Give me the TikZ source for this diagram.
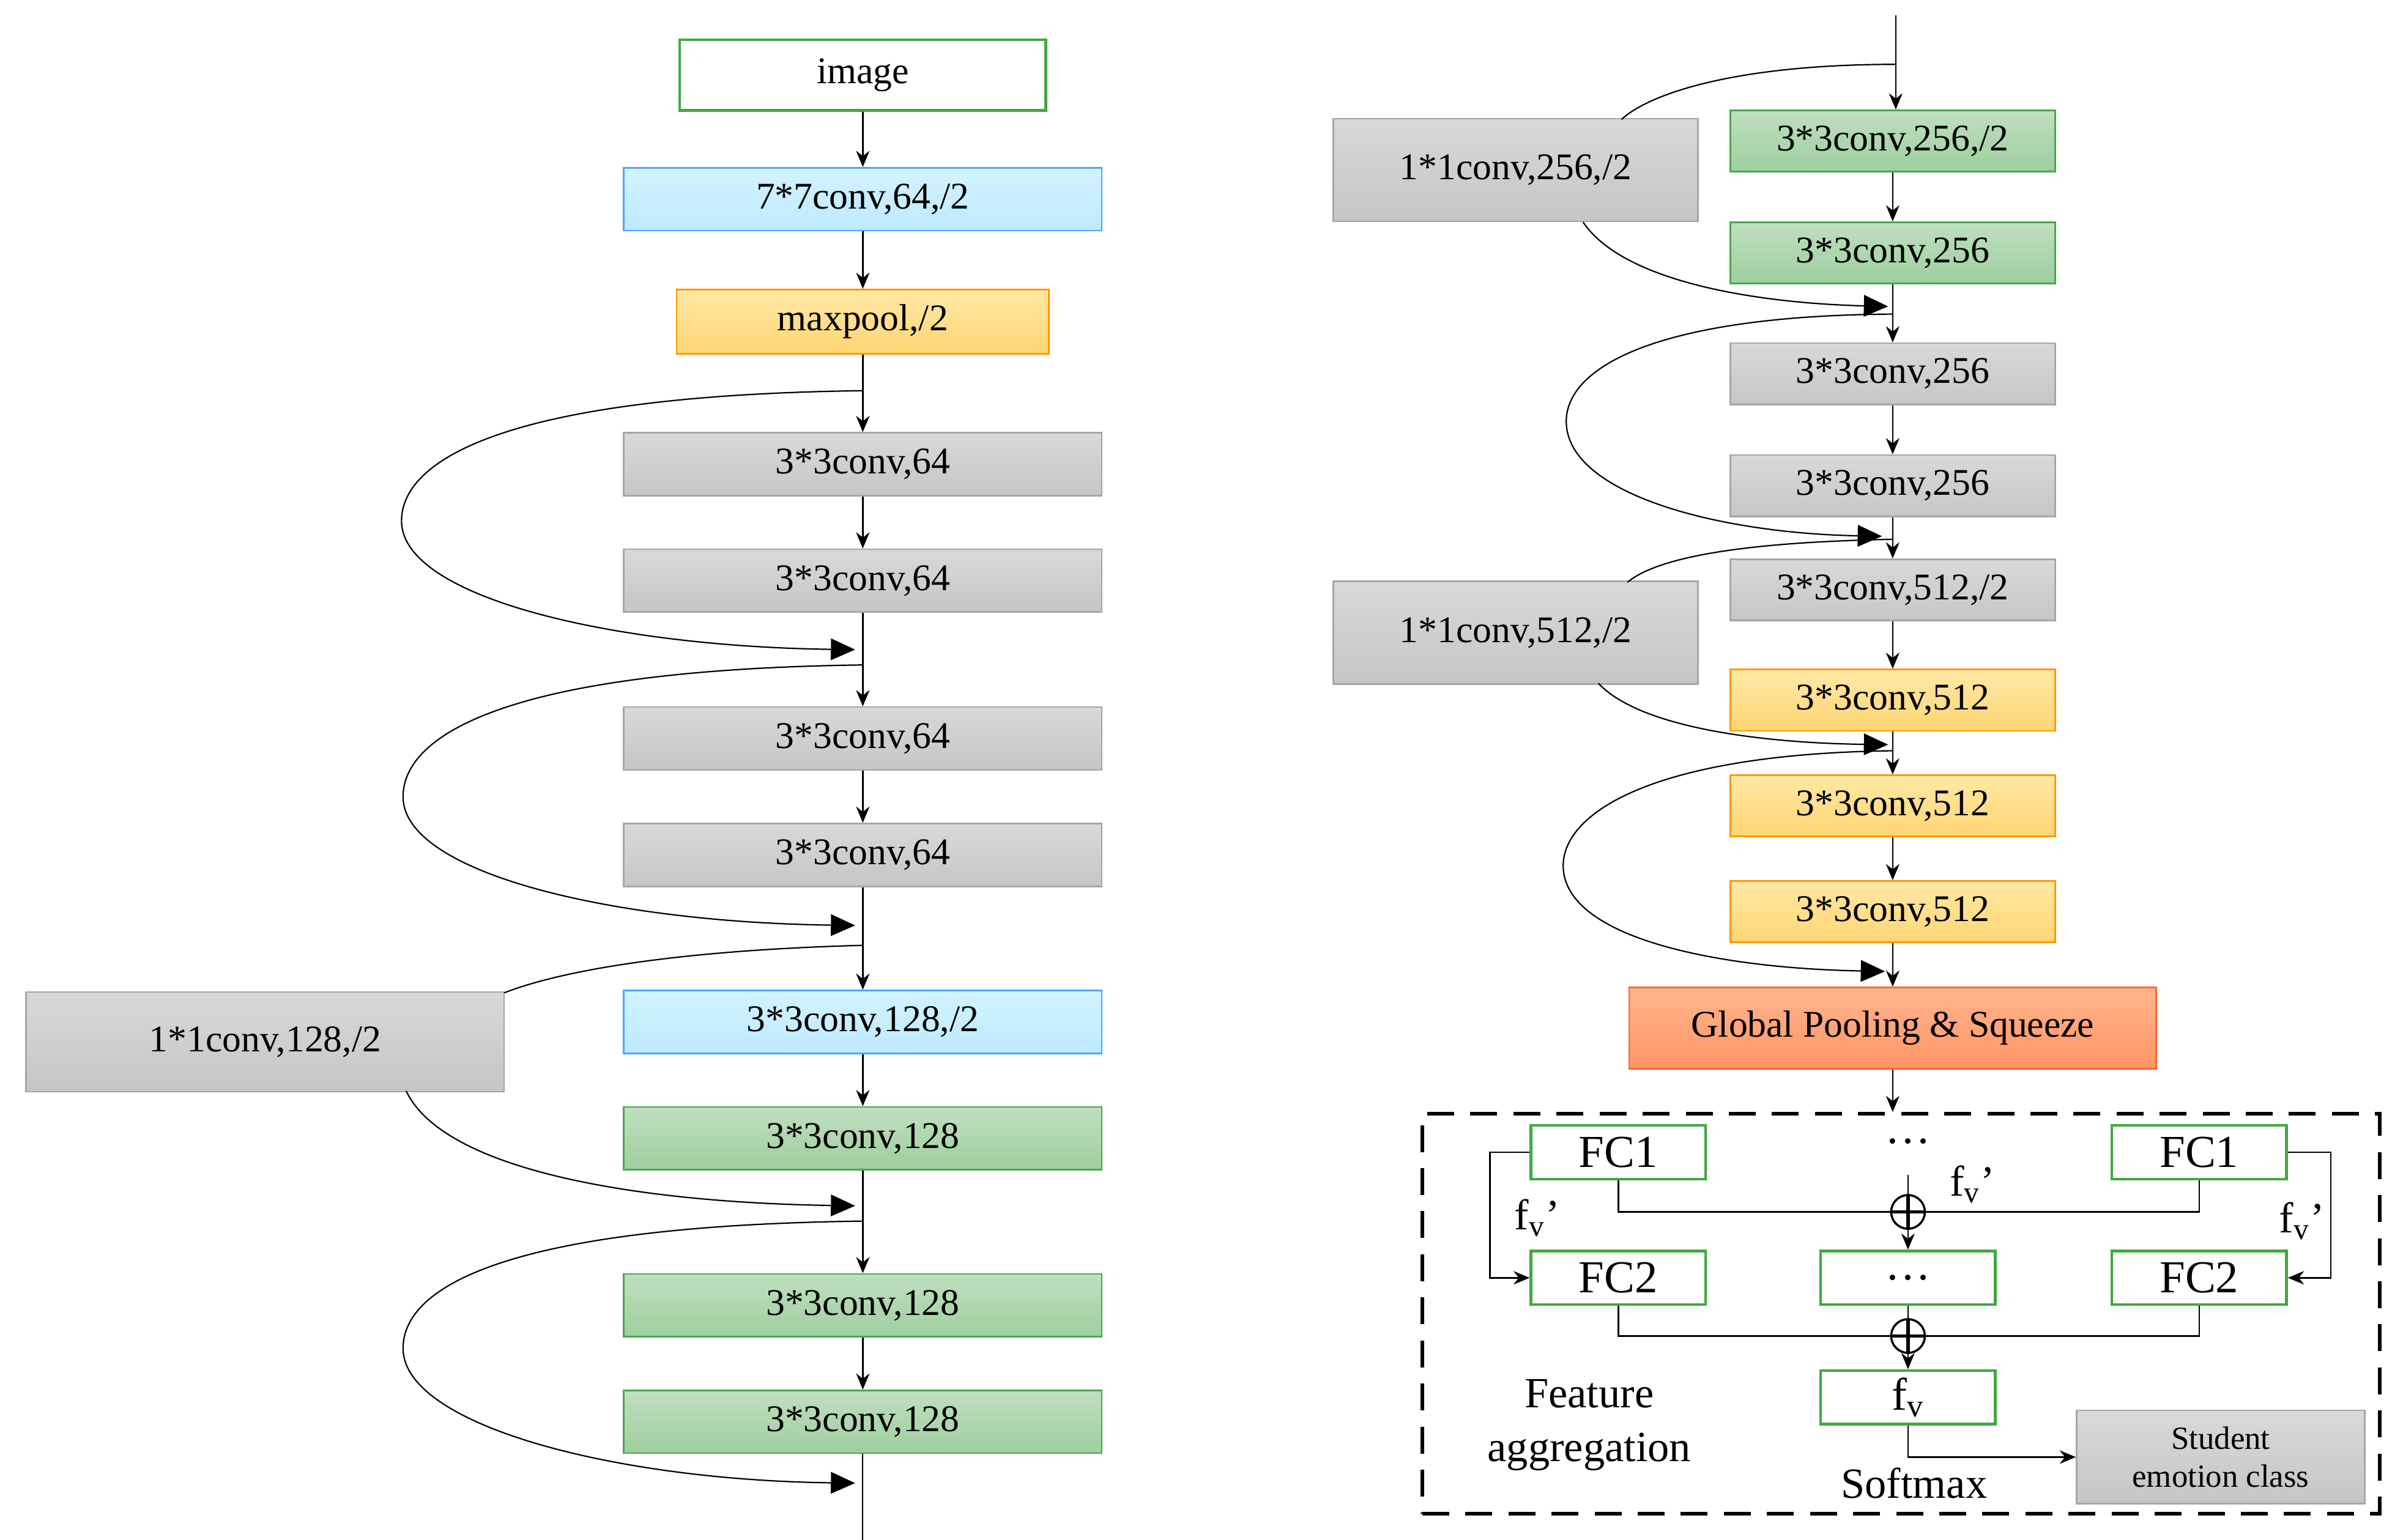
\documentclass[tikz,border=0pt]{standalone}
\usepackage{fontspec}
\setmainfont{Liberation Serif}
\usetikzlibrary{arrows.meta}
\begin{document}
\begin{tikzpicture}[x=0.02cm,y=-0.02cm,
  box/.style={draw,inner sep=0pt,font=\fontsize{14}{16}\selectfont,line width=0.6pt},
  L/.style={box,minimum width=6.24cm,minimum height=0.82cm},
  R/.style={box,minimum width=4.24cm,minimum height=0.8cm},
  gray/.style={top color=gray!30,bottom color=gray!45,draw=gray!70},
  blue/.style={top color=blue!25!cyan!18,bottom color=blue!35!cyan!25,draw=blue!50!cyan!70},
  orange/.style={top color=yellow!50!orange!35,bottom color=yellow!40!orange!55,draw=orange!80!yellow},
  green/.style={top color=green!50!black!25,bottom color=green!50!black!38,draw=green!50!black!70},
  fc/.style={box,fill=white,draw=green!55!black!75,line width=1pt,minimum width=2.28cm,minimum height=0.7cm,font=\fontsize{17}{19}\selectfont},
  ar/.style={-{Stealth[length=6pt,width=5pt]},line width=0.6pt},
  big/.style={-{Triangle[length=9pt,width=8pt]},line width=0.5pt},
  ln/.style={line width=0.5pt}]
\useasboundingbox (0,0) rectangle (1568,1005);
% left column
\node[box,fill=white,draw=green!55!black!75,line width=1pt,minimum width=4.78cm,minimum height=0.92cm] (img) at (563,49) {image};
\node[L,blue] (c7) at (563,130) {7*7conv,64,/2};
\node[box,orange,minimum width=4.86cm,minimum height=0.84cm] (mp) at (563,210) {maxpool,/2};
\node[L,gray] (a1) at (563,303) {3*3conv,64};
\node[L,gray] (a2) at (563,379) {3*3conv,64};
\node[L,gray] (a3) at (563,482) {3*3conv,64};
\node[L,gray] (a4) at (563,558) {3*3conv,64};
\node[L,blue] (b1) at (563,667) {3*3conv,128,/2};
\node[box,gray,minimum width=6.24cm,minimum height=1.3cm] (s1) at (173,680) {1*1conv,128,/2};
\node[L,green] (b2) at (563,743) {3*3conv,128};
\node[L,green] (b3) at (563,852) {3*3conv,128};
\node[L,green] (b4) at (563,928) {3*3conv,128};
\coordinate (lend) at (563,1005);
\draw[ar] (img) -- (c7);
\draw[ar] (c7) -- (mp);
\draw[ar] (mp) -- (a1);
\draw[ar] (a1) -- (a2);
\draw[ar] (a2) -- (a3);
\draw[ar] (a3) -- (a4);
\draw[ar] (a4) -- (b1);
\draw[ar] (b1) -- (b2);
\draw[ar] (b2) -- (b3);
\draw[ar] (b3) -- (b4);
\draw[ln] (b4) -- (lend);
% left skips
\draw[big] (563,255) .. controls (330,258) and (262,300) .. (262,340) .. controls (262,390) and (400,422) .. (558,424);
\draw[big] (563,434) .. controls (330,437) and (263,480) .. (263,520) .. controls (263,570) and (400,602) .. (558,604);
\draw[ln] (563,617) .. controls (450,620) and (370,632) .. (329,648);
\draw[big] (265,712) .. controls (290,765) and (420,785) .. (558,787);
\draw[big] (563,797) .. controls (330,800) and (263,840) .. (263,880) .. controls (263,930) and (400,966) .. (558,968);
% right column
\coordinate (rtop) at (1237,10);
\node[R,green] (r1) at (1235,92) {3*3conv,256,/2};
\node[R,green] (r2) at (1235,165) {3*3conv,256};
\node[R,gray] (r3) at (1235,244) {3*3conv,256};
\node[R,gray] (r4) at (1235,317) {3*3conv,256};
\node[R,gray] (r5) at (1235,385) {3*3conv,512,/2};
\node[R,orange] (r6) at (1235,457) {3*3conv,512};
\node[R,orange] (r7) at (1235,526) {3*3conv,512};
\node[R,orange] (r8) at (1235,595) {3*3conv,512};
\node[box,top color=red!30!orange!45,bottom color=red!40!orange!60,draw=red!50!orange!80,minimum width=6.88cm,minimum height=1.06cm] (gp) at (1235,671) {Global Pooling \& Squeeze};
\node[box,gray,minimum width=4.76cm,minimum height=1.34cm] (s2) at (989,111) {1*1conv,256,/2};
\node[box,gray,minimum width=4.76cm,minimum height=1.34cm] (s3) at (989,413) {1*1conv,512,/2};
\draw[ar] (rtop) -- (r1.north -| rtop);
\draw[ar] (r1) -- (r2);
\draw[ar] (r2) -- (r3);
\draw[ar] (r3) -- (r4);
\draw[ar] (r4) -- (r5);
\draw[ar] (r5) -- (r6);
\draw[ar] (r6) -- (r7);
\draw[ar] (r7) -- (r8);
\draw[ar] (r8) -- (gp);
\draw[ln] (1237,42) .. controls (1130,42) and (1075,62) .. (1058,78);
\draw[big] (1033,145) .. controls (1060,185) and (1150,198) .. (1232,200);
\draw[big] (1235,205) .. controls (1080,206) and (1022,240) .. (1022,275) .. controls (1022,322) and (1120,348) .. (1228,350);
\draw[ln] (1235,352) .. controls (1130,354) and (1080,365) .. (1062,380);
\draw[big] (1043,446) .. controls (1070,475) and (1150,485) .. (1232,486);
\draw[big] (1235,490) .. controls (1080,492) and (1020,530) .. (1020,565) .. controls (1020,612) and (1120,632) .. (1230,634);
% aggregation box
\node[draw,dashed,dash pattern=on 10pt off 6pt,line width=1.4pt,minimum width=12.5cm,minimum height=5.22cm,inner sep=0pt] (agg) at (1240.5,857.5) {};
\draw[ar] (gp) -- (gp.south |- agg.north);
\node[fc] (f1l) at (1056,752) {FC1};
\node[fc] (f1r) at (1435,752) {FC1};
\node[font=\fontsize{17}{19}\selectfont] (dt) at (1245,745) {\dots};
\node[fc] (f2l) at (1056,834) {FC2};
\node[fc] (f2m) at (1245,834) {\dots};
\node[fc] (f2r) at (1435,834) {FC2};
\node[fc] (fv) at (1245,912) {f\textsubscript{v}};
\node[box,gray,minimum width=3.76cm,minimum height=1.22cm,align=center,font=\fontsize{12}{14}\selectfont] (st) at (1449,951) {Student\\emotion class};
\node[circle,draw,line width=0.8pt,minimum size=0.44cm,inner sep=0pt] (p1) at (1245,791) {};
\node[circle,draw,line width=0.8pt,minimum size=0.44cm,inner sep=0pt] (p2) at (1245,872) {};
\draw[line width=1.2pt] (p1.north) -- (p1.south) (p1.west) -- (p1.east);
\draw[line width=1.2pt] (p2.north) -- (p2.south) (p2.west) -- (p2.east);
\draw[ln] (f1l.south) |- (p1.west);
\draw[ln] (f1r.south) |- (p1.east);
\draw[ar] (1245,767) -- (f2m.north);
\draw[ln] (f2l.south) |- (p2.west);
\draw[ln] (f2r.south) |- (p2.east);
\draw[ar] (f2m.south) -- (fv.north);
\draw[ar] (f1l.west) -- ++(-26,0) |- (f2l.west);
\draw[ar] (f1r.east) -- ++(28,0) |- (f2r.east);
\draw[ar] (fv.south) |- (st.west);
\node[font=\fontsize{16}{18}\selectfont] (l1) at (1287,773) {f\textsubscript{v}’};
\node[font=\fontsize{16}{18}\selectfont] (l2) at (1003,795) {f\textsubscript{v}’};
\node[font=\fontsize{16}{18}\selectfont] (l3) at (1502,797) {f\textsubscript{v}’};
\node[align=center,font=\fontsize{16}{20}\selectfont] (fa) at (1037,930) {Feature\\aggregation};
\node[font=\fontsize{16}{18}\selectfont] (sm) at (1249,968) {Softmax};
\end{tikzpicture}
\end{document}
